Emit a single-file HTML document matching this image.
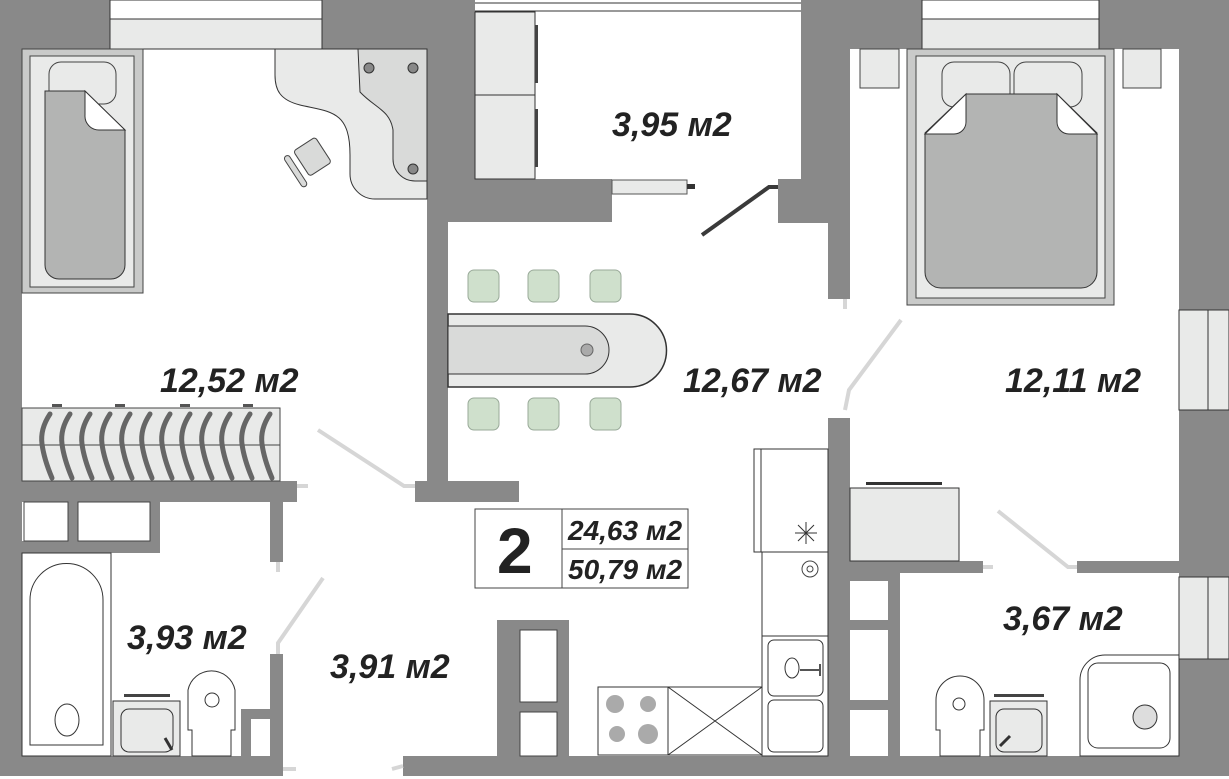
<!DOCTYPE html>
<html><head><meta charset="utf-8"><style>
html,body{margin:0;padding:0;background:#fff}
svg{display:block}
text{font-family:"Liberation Sans",sans-serif;font-weight:bold;font-style:italic;fill:#222}
</style></head><body>
<svg width="1229" height="779" viewBox="0 0 1229 779" xmlns="http://www.w3.org/2000/svg">
<rect width="1229" height="779" fill="#fff"/>
<g fill="#898989">
<rect x="0" y="0" width="22" height="776"/>
<rect x="0" y="0" width="110" height="49"/>
<rect x="322" y="0" width="153" height="49"/>
<rect x="427" y="49" width="48" height="130"/>
<rect x="427" y="179" width="185" height="43"/>
<rect x="427" y="222" width="21" height="280"/>
<rect x="415" y="481" width="104" height="21"/>
<rect x="801" y="0" width="121" height="49"/>
<rect x="801" y="49" width="49" height="130"/>
<rect x="778" y="179" width="72" height="44"/>
<rect x="828" y="222" width="22" height="77"/>
<rect x="1099" y="0" width="130" height="49"/>
<rect x="1179" y="49" width="50" height="261"/>
<rect x="1179" y="410" width="50" height="167"/>
<rect x="1179" y="659" width="50" height="117"/>
<rect x="0" y="756" width="283" height="20"/>
<rect x="403" y="756" width="826" height="20"/>
<rect x="22" y="481" width="275" height="21"/>
<rect x="22" y="541" width="138" height="12"/>
<rect x="68" y="502" width="10" height="40"/>
<rect x="150" y="502" width="10" height="40"/>
<rect x="270" y="502" width="13" height="60"/>
<rect x="270" y="654" width="13" height="102"/>
<rect x="241" y="709" width="29" height="10"/>
<rect x="241" y="709" width="10" height="47"/>
<rect x="497" y="620" width="72" height="136"/>
<rect x="828" y="418" width="22" height="338"/>
<rect x="850" y="561" width="133" height="12"/>
<rect x="1077" y="561" width="102" height="12"/>
<rect x="888" y="573" width="12" height="183"/>
</g>
<rect x="520" y="630" width="37" height="72" fill="#fff" stroke="#444" stroke-width="1"/>
<rect x="520" y="712" width="37" height="44" fill="#fff" stroke="#444" stroke-width="1"/>
<rect x="850" y="573" width="38" height="8" fill="#898989"/>
<rect x="850" y="620" width="38" height="10" fill="#898989"/>
<rect x="850" y="700" width="38" height="10" fill="#898989"/>
<rect x="24" y="502" width="44" height="39" fill="#fff" stroke="#444"/>
<rect x="78" y="502" width="72" height="39" fill="#fff" stroke="#444"/>
<g stroke="#333" stroke-width="1">
<rect x="110" y="0" width="212" height="19" fill="#fff"/>
<rect x="110" y="19" width="212" height="30" fill="#e9eae9"/>
<rect x="922" y="0" width="177" height="19" fill="#fff"/>
<rect x="922" y="19" width="177" height="30" fill="#e9eae9"/>
<rect x="1179" y="310" width="50" height="100" fill="#e9eae9"/>
<rect x="1179" y="577" width="50" height="82" fill="#e9eae9"/>
<line x1="1208" y1="310" x2="1208" y2="410"/><line x1="1208" y1="577" x2="1208" y2="659"/>
<line x1="475" y1="3" x2="801" y2="3"/><line x1="475" y1="11" x2="801" y2="11"/>
</g>
<g stroke="#333" fill="#e9eae9">
<rect x="475" y="12" width="60" height="83"/>
<rect x="475" y="95" width="60" height="84"/>
</g>
<rect x="535" y="25" width="3" height="58" fill="#444"/>
<rect x="535" y="109" width="3" height="58" fill="#444"/>
<rect x="612" y="180" width="75" height="14" fill="#e9eae9" stroke="#555"/>
<rect x="687" y="184" width="8" height="5" fill="#333"/>
<polyline points="702,235 769,187 778,187" fill="none" stroke="#3a3a3a" stroke-width="4"/>
<rect x="22" y="49" width="121" height="244" fill="#c9cac9" stroke="#444"/>
<rect x="30" y="56" width="104" height="231" fill="#e9eae9" stroke="#444"/>
<rect x="49" y="62" width="67" height="42" rx="12" fill="#e9eae9" stroke="#444"/>
<path d="M45 91 H85 L125 130 V265 a14 14 0 0 1 -14 14 H59 a14 14 0 0 1 -14 -14 Z" fill="#b3b4b3" stroke="#333"/>
<path d="M85 91 V115 a14 14 0 0 0 14 15 H125 Z" fill="#fff" stroke="#333"/>
<path d="M275 49 H427 V199 H375 a25 25 0 0 1 -25 -25 V155 C350 110 330 112 300 105 C280 100 275 90 275 75 Z" fill="#e9eae9" stroke="#333"/>
<path d="M358 49 H427 V181 H415 a22 22 0 0 1 -22 -22 V130 C390 110 375 108 360 92 Z" fill="#d9dad9" stroke="#333"/>
<g fill="#888" stroke="#333"><circle cx="369" cy="68" r="5"/><circle cx="413" cy="68" r="5"/><circle cx="413" cy="169" r="5"/></g>
<g transform="translate(311,160) rotate(-33)"><rect x="-10" y="-17" width="26" height="30" rx="3" fill="#d9dad9" stroke="#444"/><rect x="-22" y="-17" width="6" height="36" rx="3" fill="#d9dad9" stroke="#444"/></g>
<rect x="22" y="408" width="258" height="73" fill="#e9eae9" stroke="#444"/>
<line x1="22" y1="445" x2="280" y2="445" stroke="#444"/>
<g stroke="#666" stroke-width="5" fill="none" stroke-linecap="round">
<path d="M50 414 q-10 15 -8 30 q2 15 10 34"/><path d="M70 414 q-10 15 -8 30 q2 15 10 34"/><path d="M90 414 q-10 15 -8 30 q2 15 10 34"/><path d="M110 414 q-10 15 -8 30 q2 15 10 34"/><path d="M130 414 q-10 15 -8 30 q2 15 10 34"/><path d="M150 414 q-10 15 -8 30 q2 15 10 34"/><path d="M170 414 q-10 15 -8 30 q2 15 10 34"/><path d="M190 414 q-10 15 -8 30 q2 15 10 34"/><path d="M210 414 q-10 15 -8 30 q2 15 10 34"/><path d="M230 414 q-10 15 -8 30 q2 15 10 34"/><path d="M250 414 q-10 15 -8 30 q2 15 10 34"/><path d="M270 414 q-10 15 -8 30 q2 15 10 34"/>
</g>
<g fill="#555"><rect x="52" y="404" width="10" height="3"/><rect x="115" y="404" width="10" height="3"/><rect x="180" y="404" width="10" height="3"/><rect x="243" y="404" width="10" height="3"/></g>
<path d="M448 314 H630 a36 36 0 0 1 0 73 H448 Z" fill="#e9eae9" stroke="#333" stroke-width="1.5"/>
<path d="M448 326 H585 a24 24 0 0 1 0 48 H448 Z" fill="#d9dad9" stroke="#333"/>
<circle cx="587" cy="350" r="6" fill="#aaa" stroke="#666"/>
<g fill="#cfe0cc" stroke="#9a9" stroke-width="1">
<rect x="468" y="270" width="31" height="32" rx="6"/><rect x="528" y="270" width="31" height="32" rx="6"/><rect x="590" y="270" width="31" height="32" rx="6"/>
<rect x="468" y="398" width="31" height="32" rx="6"/><rect x="528" y="398" width="31" height="32" rx="6"/><rect x="590" y="398" width="31" height="32" rx="6"/>
</g>
<rect x="860" y="49" width="39" height="39" fill="#e9eae9" stroke="#444"/>
<rect x="1123" y="49" width="38" height="39" fill="#e9eae9" stroke="#444"/>
<rect x="907" y="49" width="207" height="256" fill="#c9cac9" stroke="#444"/>
<rect x="916" y="56" width="189" height="242" fill="#e9eae9" stroke="#444"/>
<rect x="942" y="62" width="68" height="45" rx="12" fill="#e9eae9" stroke="#444"/>
<rect x="1014" y="62" width="68" height="45" rx="12" fill="#e9eae9" stroke="#444"/>
<path d="M966 94 H1057 L1097 133 V272 a16 16 0 0 1 -16 16 H941 a16 16 0 0 1 -16 -16 V133 Z" fill="#b3b4b3" stroke="#333"/>
<path d="M966 94 V122 a12 12 0 0 1 -12 12 H925 Z M1057 94 V122 a12 12 0 0 0 12 12 H1097 Z" fill="#fff" stroke="#333"/>
<rect x="850" y="488" width="109" height="73" fill="#e9eae9" stroke="#333"/>
<rect x="866" y="482" width="76" height="3" fill="#333"/>
<g stroke="#333" fill="#fff">
<rect x="754" y="449" width="7" height="103"/>
<rect x="761" y="449" width="67" height="103"/>
<rect x="762" y="552" width="66" height="84"/>
<rect x="762" y="636" width="66" height="120"/>
<rect x="768" y="640" width="55" height="56" rx="6"/>
<rect x="768" y="700" width="55" height="52" rx="6"/>
<ellipse cx="792" cy="668" rx="7" ry="10"/>
<rect x="598" y="687" width="70" height="68"/>
<rect x="668" y="687" width="94" height="68"/>
</g>
<path d="M668 687 L762 755 M762 687 L668 755" stroke="#333"/>
<g fill="#aaa"><circle cx="615" cy="704" r="9"/><circle cx="648" cy="704" r="8"/><circle cx="617" cy="734" r="8"/><circle cx="648" cy="734" r="10"/></g>
<path d="M800 670 h20 M820 664 v12" stroke="#555" stroke-width="2"/>
<path d="M798 525 l16 16 M814 525 l-16 16 M806 522 v22 M795 533 h22" stroke="#333"/>
<circle cx="810" cy="569" r="8" fill="none" stroke="#444"/><circle cx="810" cy="569" r="3" fill="none" stroke="#444"/>
<rect x="22" y="553" width="89" height="203" fill="#fff" stroke="#333"/>
<path d="M30 600 a36 36 0 0 1 73 0 V745 H30 Z" fill="#fff" stroke="#333"/>
<ellipse cx="67" cy="720" rx="12" ry="16" fill="#fff" stroke="#333"/>
<rect x="113" y="701" width="67" height="55" fill="#e9eae9" stroke="#333"/>
<rect x="121" y="709" width="52" height="43" rx="8" fill="#e9eae9" stroke="#333"/>
<rect x="124" y="694" width="46" height="3" fill="#444"/>
<path d="M188 730 V690 a24 24 0 0 1 47 0 V730 h-4 V756 h-39 V730 Z" fill="#fff" stroke="#333"/>
<circle cx="212" cy="700" r="7" fill="#fff" stroke="#333"/>
<path d="M165 738 l7 12" stroke="#333" stroke-width="3"/>
<path d="M1080 756 V680 a25 25 0 0 1 25 -25 H1179 V756 Z" fill="#fff" stroke="#333"/>
<rect x="1088" y="663" width="82" height="85" rx="10" fill="#fff" stroke="#333"/>
<circle cx="1145" cy="717" r="12" fill="#ddd" stroke="#333"/>
<rect x="990" y="701" width="57" height="55" fill="#e9eae9" stroke="#333"/>
<rect x="996" y="709" width="46" height="43" rx="8" fill="#e9eae9" stroke="#333"/>
<rect x="994" y="694" width="50" height="3" fill="#444"/>
<path d="M1000 746 l10 -10" stroke="#333" stroke-width="3"/>
<path d="M936 730 V700 a24 24 0 0 1 48 0 V730 h-4 V756 h-40 V730 Z" fill="#fff" stroke="#333"/>
<circle cx="959" cy="704" r="6" fill="#fff" stroke="#333"/>
<g stroke="#d6d6d6" stroke-width="4" fill="none">
<polyline points="318,430 404,486 415,486"/>
<polyline points="323,578 278,643 278,654"/>
<line x1="297" y1="486" x2="308" y2="486"/>
<line x1="278" y1="562" x2="278" y2="572"/>
<polyline points="901,320 849,390 845,410"/>
<line x1="845" y1="299" x2="845" y2="309"/>
<polyline points="998,511 1068,567 1077,567"/>
<line x1="983" y1="567" x2="993" y2="567"/>
<line x1="283" y1="769" x2="296" y2="769"/>
<line x1="392" y1="769" x2="403" y2="766"/>
</g>
<rect x="475" y="509" width="213" height="79" fill="#fff" stroke="#444"/>
<line x1="562" y1="509" x2="562" y2="588" stroke="#444"/>
<line x1="562" y1="549" x2="688" y2="549" stroke="#444"/>
<text x="497" y="573" font-size="64" style="font-style:normal">2</text>
<text x="568" y="540" font-size="28">24,63 м2</text>
<text x="568" y="579" font-size="28">50,79 м2</text>
<g font-size="34">
<text x="612" y="136">3,95 м2</text>
<text x="160" y="392">12,52 м2</text>
<text x="683" y="392">12,67 м2</text>
<text x="1005" y="392">12,11 м2</text>
<text x="127" y="649">3,93 м2</text>
<text x="330" y="678">3,91 м2</text>
<text x="1003" y="630">3,67 м2</text>
</g>
</svg>
</body></html>
